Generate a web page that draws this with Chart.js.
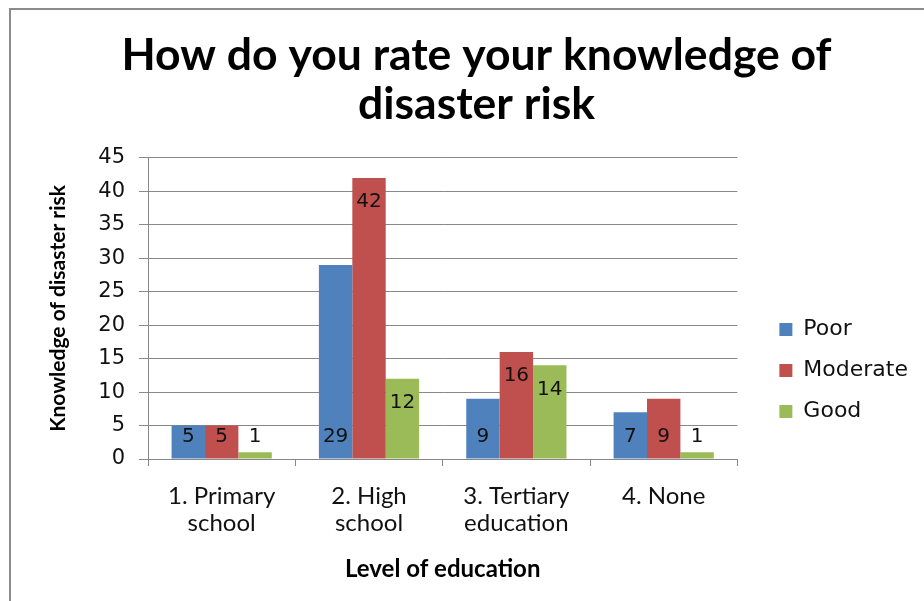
<!DOCTYPE html>
<html>
<head>
<meta charset="utf-8">
<script src="https://cdn.jsdelivr.net/npm/chart.js@4.4.1/dist/chart.umd.min.js"></script>
<style>
  html, body { margin: 0; padding: 0; background: #fff; }
  #wrap { position: absolute; left: 0; top: 0; width: 924px; height: 601px; }
  #frame { position: absolute; left: 9px; top: 8px; width: 930px; height: 610px;
           border-left: 2px solid #8c8c8c; border-top: 2px solid #8c8c8c; }
</style>
</head>
<body>
<div id="wrap">
  <div id="frame"></div>
  <canvas id="myChart" width="924" height="601"></canvas>
</div>
<script>
const categories = [["1. Primary", "school"], ["2. High", "school"], ["3. Tertiary", "education"], ["4. None"]];
const poorValues = [5, 29, 9, 7];
const moderateValues = [5, 42, 16, 9];
const goodValues = [1, 12, 14, 1];
const yTicks = [0, 5, 10, 15, 20, 25, 30, 35, 40, 45];

const fontFamily = "Lato, 'Open Sans', sans-serif";
const wideFamily = "'DejaVu Sans', Verdana, sans-serif";

// value labels drawn on the bars
const valueLabels = {
    id: 'valueLabels',
    afterDatasetsDraw(chart) {
        const ctx = chart.ctx;
        const base = chart.scales.y.getPixelForValue(0);
        ctx.save();
        ctx.font = '20px ' + wideFamily;
        ctx.fillStyle = '#111';
        ctx.textAlign = 'center';
        ctx.textBaseline = 'middle';
        chart.data.datasets.forEach((ds, di) => {
            chart.getDatasetMeta(di).data.forEach((bar, i) => {
                const v = ds.data[i];
                let y = base - 22;
                if (di > 0 && v > 10) y = bar.y + 24;
                ctx.fillText(String(v), bar.x, y);
            });
        });
        ctx.restore();
    }
};

// push the legend a bit away from the plot and nudge the title, like the original
const layoutTweaks = {
    id: 'layoutTweaks',
    afterLayout(chart) {
        const lg = chart.legend;
        const dx = chart.chartArea.right + 42 - (lg.left + lg.options.labels.padding);
        lg.left += dx;
        lg.right += dx;
        chart.titleBlock.left += 8;
        chart.titleBlock.right += 8;
    }
};

const ctx = document.getElementById('myChart').getContext('2d');
const myChart = new Chart(ctx, {
    type: 'bar',
    data: {
        labels: categories,
        datasets: [
            { label: 'Poor', data: poorValues, backgroundColor: '#4f81bd' },
            { label: 'Moderate', data: moderateValues, backgroundColor: '#c0504d' },
            { label: 'Good', data: goodValues, backgroundColor: '#9bbb59' }
        ]
    },
    options: {
        responsive: false,
        animation: false,
        categoryPercentage: 0.68,
        barPercentage: 1,
        layout: { padding: { left: 42, right: 29, top: 0, bottom: 13 } },
        plugins: {
            title: {
                display: true,
                text: ['How do you rate your knowledge of', 'disaster risk'],
                color: '#000',
                font: { family: fontFamily, size: 44.5, weight: 'bold', lineHeight: 1.1 },
                padding: { top: 31, bottom: 29 }
            },
            legend: {
                position: 'right',
                title: { display: true, text: '', font: { size: 10 }, padding: { top: 141, bottom: 0 } },
                labels: {
                    color: '#111',
                    font: { family: wideFamily, size: 22 },
                    boxWidth: 13,
                    boxHeight: 13,
                    padding: 19
                }
            },
            tooltip: { enabled: false }
        },
        scales: {
            x: {
                afterFit: (axis) => { axis.height = 129; },
                grid: { display: true, drawOnChartArea: false, color: '#888', tickLength: 7 },
                border: { color: '#888' },
                ticks: { color: '#111', font: { family: fontFamily, size: 24, lineHeight: 1.15 }, padding: 16 },
                title: {
                    display: true,
                    text: 'Level of education',
                    color: '#000',
                    font: { family: fontFamily, size: 24, weight: 'bold' },
                    padding: { top: 10 }
                }
            },
            y: {
                min: 0,
                max: 45,
                afterBuildTicks: (axis) => { axis.ticks = yTicks.map(v => ({ value: v })); },
                afterFit: (axis) => { axis.width = 106; },
                grid: { color: '#888', tickLength: 9 },
                border: { color: '#888' },
                ticks: { color: '#111', font: { family: wideFamily, size: 21 }, padding: 14 },
                title: {
                    display: true,
                    text: 'Knowledge of disaster risk',
                    color: '#000',
                    font: { family: fontFamily, size: 21, weight: 'bold' },
                    padding: { bottom: 8 }
                }
            }
        }
    },
    plugins: [valueLabels, layoutTweaks]
});
</script>
</body>
</html>
